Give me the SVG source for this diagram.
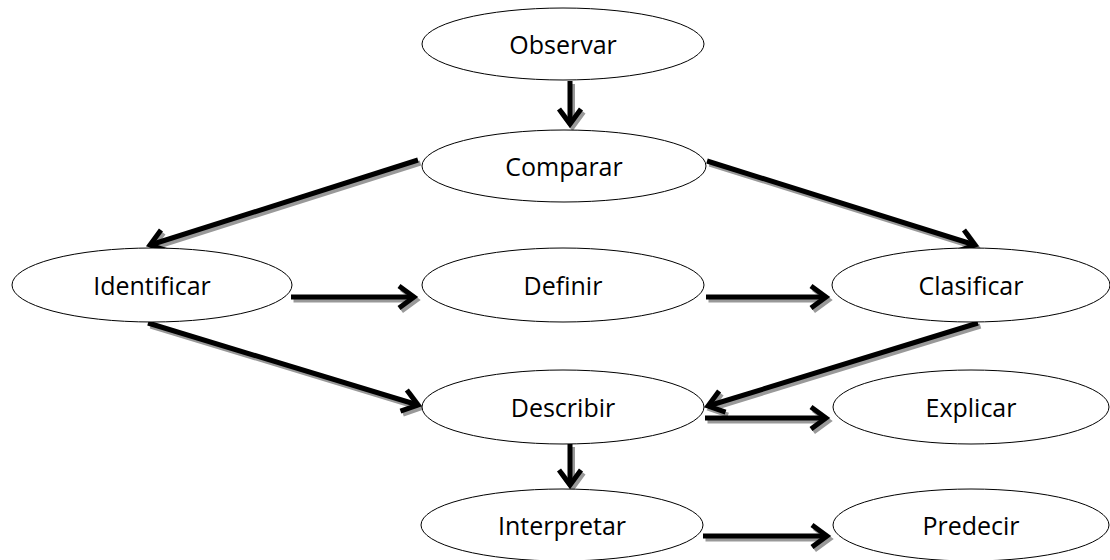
<svg xmlns="http://www.w3.org/2000/svg" width="1110" height="560" viewBox="0 0 1110 560">
<style>
.node ellipse{fill:#fff;stroke:#000;stroke-width:1}
.node text{font-family:"Open Sans","Liberation Sans",sans-serif;font-size:25px;fill:#000;text-anchor:middle;dominant-baseline:central}
.sh line{stroke:#999;stroke-width:5;marker-end:url(#ahs)}
.fg line{stroke:#000;stroke-width:5;marker-end:url(#ah)}
</style>
<defs>
<marker id="ah" markerUnits="userSpaceOnUse" markerWidth="40" markerHeight="40" viewBox="-20 -20 40 40" refX="0" refY="0" orient="auto" overflow="visible">
<polyline points="-15,-11 0,0 -15,11" fill="none" stroke="#000" stroke-width="5" stroke-linejoin="miter"/>
</marker>
<marker id="ahs" markerUnits="userSpaceOnUse" markerWidth="40" markerHeight="40" viewBox="-20 -20 40 40" refX="0" refY="0" orient="auto" overflow="visible">
<polyline points="-15,-11 0,0 -15,11" fill="none" stroke="#999" stroke-width="5" stroke-linejoin="miter"/>
</marker>
</defs>
<g id="connectors">
<g class="sh" transform="translate(2.5,3)">
<line x1="570" y1="81" x2="570" y2="124"/>
<line x1="418" y1="160" x2="150" y2="245"/>
<line x1="707" y1="161" x2="975" y2="245"/>
<line x1="291" y1="297" x2="414" y2="297"/>
<line x1="706" y1="297" x2="826" y2="297"/>
<line x1="148" y1="323" x2="418" y2="405"/>
<line x1="978" y1="323" x2="708" y2="406"/>
<line x1="705" y1="418" x2="826" y2="418"/>
<line x1="570" y1="444" x2="570" y2="485"/>
<line x1="703" y1="536" x2="827" y2="536"/>
</g>
<g class="fg">
<line x1="570" y1="81" x2="570" y2="124"/>
<line x1="418" y1="160" x2="150" y2="245"/>
<line x1="707" y1="161" x2="975" y2="245"/>
<line x1="291" y1="297" x2="414" y2="297"/>
<line x1="706" y1="297" x2="826" y2="297"/>
<line x1="148" y1="323" x2="418" y2="405"/>
<line x1="978" y1="323" x2="708" y2="406"/>
<line x1="705" y1="418" x2="826" y2="418"/>
<line x1="570" y1="444" x2="570" y2="485"/>
<line x1="703" y1="536" x2="827" y2="536"/>
</g>
</g>
<g id="observar" class="node"><ellipse cx="563" cy="44" rx="141" ry="36"/><text x="563" y="44">Observar</text></g>
<g id="comparar" class="node"><ellipse cx="564" cy="166" rx="142" ry="36"/><text x="564" y="166">Comparar</text></g>
<g id="identificar" class="node"><ellipse cx="152" cy="285" rx="140" ry="37"/><text x="152" y="285">Identificar</text></g>
<g id="definir" class="node"><ellipse cx="563" cy="285" rx="141" ry="37"/><text x="563" y="285">Definir</text></g>
<g id="clasificar" class="node"><ellipse cx="971" cy="285" rx="139" ry="37"/><text x="971" y="285">Clasificar</text></g>
<g id="describir" class="node"><ellipse cx="563" cy="407" rx="141" ry="37"/><text x="563" y="407">Describir</text></g>
<g id="explicar" class="node"><ellipse cx="971" cy="407" rx="138" ry="37"/><text x="971" y="407">Explicar</text></g>
<g id="interpretar" class="node"><ellipse cx="562" cy="525" rx="141" ry="36"/><text x="562" y="525">Interpretar</text></g>
<g id="predecir" class="node"><ellipse cx="971" cy="525" rx="138" ry="36"/><text x="971" y="525">Predecir</text></g>
</svg>
